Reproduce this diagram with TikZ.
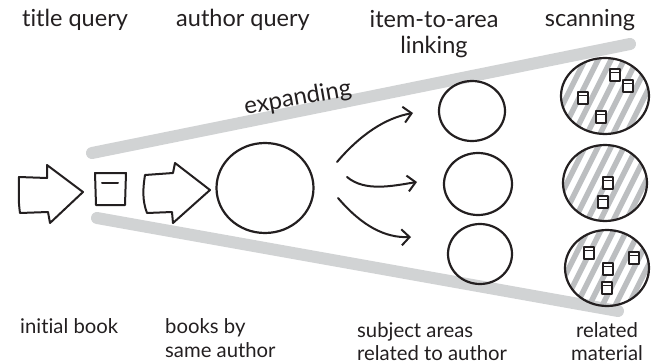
\documentclass[tikz,border=0pt]{standalone}
\usepackage{fontspec}
\setmainfont{Lato}[Ligatures={NoCommon}]
\usetikzlibrary{arrows.meta,shapes.geometric}
\definecolor{ink}{HTML}{231F20}
\definecolor{bandgray}{HTML}{D1D3D4}
\definecolor{hatchgray}{HTML}{BCBEC0}
\begin{document}
\begin{tikzpicture}[x=1pt,y=-1pt,
  inkline/.style={draw=ink, line width=2pt, line join=round, line cap=round},
  bandline/.style={draw=bandgray, line width=12pt, line cap=round},
  toplbl/.style={text=ink, font=\fontsize{23.5}{26}\selectfont, align=center, inner sep=0pt, anchor=base},
  botlbl/.style={text=ink, font=\fontsize{20.3}{23}\selectfont, inner sep=0pt, anchor=base west},
  ring/.style={draw=ink, line width=2.2pt, ellipse, inner sep=0pt},
  curvearrow/.style={inkline, -{Straight Barb[length=8pt,width=16pt,line width=2pt]}},
]
\useasboundingbox (0,0) rectangle (659,364);

% expanding bands
\coordinate (t1) at (92,153);
\coordinate (t2) at (630,44);
\coordinate (b1) at (97,218);
\coordinate (b2) at (618,311);
\draw[bandline] (t1) -- (t2);
\draw[bandline] (b1) -- (b2);
\node[text=ink, font=\fontsize{24}{26}\selectfont, rotate=10, inner sep=0pt, anchor=base] (exp) at (299,105) {expanding};

% top labels
\node[toplbl] (l1) at (75,27) {title query};
\node[toplbl] (l2) at (243,27) {author query};
\node[toplbl] (l3) at (434,53) {item-to-area\\linking};
\node[toplbl] (l4) at (590,27) {scanning};

% bottom labels
\node[botlbl] (d1) at (20,333) {initial book};
\node[botlbl] (d2a) at (165,333) {books by};
\node[botlbl] (d2b) at (165,357) {same author};
\node[botlbl] (d3a) at (357,337) {subject areas};
\node[botlbl] (d3b) at (357,360) {related to author};
\node[botlbl, anchor=base] (d4a) at (607,337) {related};
\node[botlbl, anchor=base] (d4b) at (607,360) {material};

% block arrow 1
\draw[inkline] (19,177) -- (47,178) -- (47,165) -- (83,192) -- (50,223) -- (48,212) -- (20,213) .. controls (18,200) and (19,190) .. cycle;
% initial book
\draw[inkline] (95,173) -- (126,173) -- (125,205) -- (96,205) -- cycle;
\draw[inkline] (102,183) -- (118,183);
% block arrow 2
\draw[inkline] (145,175) -- (173,173) -- (175,163) -- (210,190) -- (173,223) -- (172,212) -- (147,213) .. controls (142,200) and (143,188) .. cycle;

% author circle
\node[ring, minimum width=97pt, minimum height=90pt] (auth) at (265,188) {};

% area circles
\node[ring, minimum width=66pt, minimum height=60pt] (c1) at (472,111) {};
\node[ring, minimum width=68pt, minimum height=62pt] (c2) at (478,184) {};
\node[ring, minimum width=64pt, minimum height=60pt] (c3) at (480,254) {};
\coordinate (a1) at (413,113);
\coordinate (a2) at (417,182);
\coordinate (a3) at (411,237);
\coordinate (s1) at (337,162);
\coordinate (s2) at (347,177);
\coordinate (s3) at (338,198);
\draw[curvearrow] (s1) .. controls (360,135) and (385,118) .. (a1);
\draw[curvearrow] (s2) .. controls (365,192) and (392,186) .. (a2);
\draw[curvearrow] (s3) .. controls (362,226) and (385,238) .. (a3);

% scanning circles
\foreach \cx/\cy/\rx/\ry in {605/96/44/38, 605/183/42/38, 607/268/42/38}{
  \begin{scope}
    \clip (\cx,\cy) circle[x radius=\rx, y radius=\ry];
    \foreach \k in {-90,-77,...,90}{
      \draw[hatchgray, line width=5.5pt] (\cx+\k-25,\cy+50) -- (\cx+\k+25,\cy-50);
    }
  \end{scope}
  \draw[draw=ink, line width=2.2pt] (\cx,\cy) circle[x radius=\rx, y radius=\ry];
}
% book icons
\foreach \bx/\by in {615/75, 628/86, 583/98, 601/117, 608/183, 603/202, 589/253, 634/258, 608/269, 607/288}{
  \draw[draw=ink, fill=white, line width=1.5pt, line join=round] (\bx-5,\by-6) rectangle (\bx+5,\by+6);
  \draw[ink, line width=1.3pt] (\bx-5,\by-2.5) -- (\bx+5,\by-2.5);
}
\end{tikzpicture}
\end{document}
